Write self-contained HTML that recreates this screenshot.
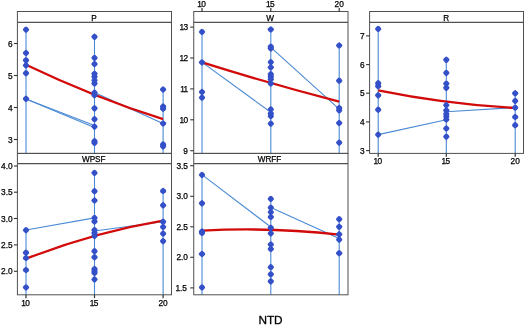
<!DOCTYPE html>
<html><head><meta charset="utf-8"><title>NTD</title>
<style>
html,body{margin:0;padding:0;background:#fff;}
svg{display:block;}
.t{font-family:"Liberation Sans",sans-serif;font-size:8.3px;fill:#000;stroke:#000;stroke-width:0.25px;}
.h{font-size:8.2px;letter-spacing:-0.1px;}
.ax{font-family:"Liberation Sans",sans-serif;font-size:11.8px;fill:#000;stroke:#000;stroke-width:0.3px;}
</style></head><body>
<svg width="525" height="326" viewBox="0 0 525 326">
<rect width="525" height="326" fill="#fff"/>
<line x1="26.0" y1="29.6" x2="26.0" y2="153.4" stroke="#4a8ad4" stroke-width="1.1"/><line x1="94.5" y1="36.8" x2="94.5" y2="153.4" stroke="#4a8ad4" stroke-width="1.1"/><line x1="163.1" y1="89.5" x2="163.1" y2="153.4" stroke="#4a8ad4" stroke-width="1.1"/><line x1="26" y1="98.9" x2="94.5" y2="125.5" stroke="#4a8ad4" stroke-width="1.1"/><line x1="26" y1="98.9" x2="94.5" y2="127.5" stroke="#4a8ad4" stroke-width="1.1"/><line x1="94.5" y1="92.4" x2="162.9" y2="123.5" stroke="#4a8ad4" stroke-width="1.1"/><path d="M26 64.7 Q94.45 97.45 163.1 119.2" fill="none" stroke="#d20a0a" stroke-width="2.3" stroke-linecap="butt"/><rect x="23.30" y="26.90" width="5.4" height="5.4" rx="1.7" transform="rotate(45 26.0 29.6)" fill="#3350c8"/><rect x="23.30" y="50.30" width="5.4" height="5.4" rx="1.7" transform="rotate(45 26.0 53)" fill="#3350c8"/><rect x="23.30" y="57.60" width="5.4" height="5.4" rx="1.7" transform="rotate(45 26.0 60.3)" fill="#3350c8"/><rect x="23.30" y="62.70" width="5.4" height="5.4" rx="1.7" transform="rotate(45 26.0 65.4)" fill="#3350c8"/><rect x="23.30" y="70.50" width="5.4" height="5.4" rx="1.7" transform="rotate(45 26.0 73.2)" fill="#3350c8"/><rect x="23.30" y="96.10" width="5.4" height="5.4" rx="1.7" transform="rotate(45 26.0 98.8)" fill="#3350c8"/><rect x="91.80" y="34.10" width="5.4" height="5.4" rx="1.7" transform="rotate(45 94.5 36.8)" fill="#3350c8"/><rect x="91.80" y="55.20" width="5.4" height="5.4" rx="1.7" transform="rotate(45 94.5 57.9)" fill="#3350c8"/><rect x="91.80" y="61.30" width="5.4" height="5.4" rx="1.7" transform="rotate(45 94.5 64)" fill="#3350c8"/><rect x="91.80" y="71.10" width="5.4" height="5.4" rx="1.7" transform="rotate(45 94.5 73.8)" fill="#3350c8"/><rect x="91.80" y="74.10" width="5.4" height="5.4" rx="1.7" transform="rotate(45 94.5 76.8)" fill="#3350c8"/><rect x="91.80" y="77.70" width="5.4" height="5.4" rx="1.7" transform="rotate(45 94.5 80.4)" fill="#3350c8"/><rect x="91.80" y="80.80" width="5.4" height="5.4" rx="1.7" transform="rotate(45 94.5 83.5)" fill="#3350c8"/><rect x="91.80" y="89.90" width="5.4" height="5.4" rx="1.7" transform="rotate(45 94.5 92.6)" fill="#3350c8"/><rect x="91.80" y="92.50" width="5.4" height="5.4" rx="1.7" transform="rotate(45 94.5 95.2)" fill="#3350c8"/><rect x="91.80" y="105.60" width="5.4" height="5.4" rx="1.7" transform="rotate(45 94.5 108.3)" fill="#3350c8"/><rect x="91.80" y="116.50" width="5.4" height="5.4" rx="1.7" transform="rotate(45 94.5 119.2)" fill="#3350c8"/><rect x="91.80" y="123.90" width="5.4" height="5.4" rx="1.7" transform="rotate(45 94.5 126.6)" fill="#3350c8"/><rect x="91.80" y="138.50" width="5.4" height="5.4" rx="1.7" transform="rotate(45 94.5 141.2)" fill="#3350c8"/><rect x="91.80" y="140.20" width="5.4" height="5.4" rx="1.7" transform="rotate(45 94.5 142.9)" fill="#3350c8"/><rect x="160.40" y="86.80" width="5.4" height="5.4" rx="1.7" transform="rotate(45 163.1 89.5)" fill="#3350c8"/><rect x="160.40" y="103.80" width="5.4" height="5.4" rx="1.7" transform="rotate(45 163.1 106.5)" fill="#3350c8"/><rect x="160.40" y="106.00" width="5.4" height="5.4" rx="1.7" transform="rotate(45 163.1 108.7)" fill="#3350c8"/><rect x="160.40" y="120.80" width="5.4" height="5.4" rx="1.7" transform="rotate(45 163.1 123.5)" fill="#3350c8"/><rect x="160.40" y="141.70" width="5.4" height="5.4" rx="1.7" transform="rotate(45 163.1 144.4)" fill="#3350c8"/><rect x="160.40" y="143.70" width="5.4" height="5.4" rx="1.7" transform="rotate(45 163.1 146.4)" fill="#3350c8"/><line x1="202.0" y1="31.9" x2="202.0" y2="153.4" stroke="#4a8ad4" stroke-width="1.1"/><line x1="270.8" y1="29.5" x2="270.8" y2="153.4" stroke="#4a8ad4" stroke-width="1.1"/><line x1="339.2" y1="45.5" x2="339.2" y2="153.4" stroke="#4a8ad4" stroke-width="1.1"/><line x1="202.2" y1="62.4" x2="270.8" y2="112.3" stroke="#4a8ad4" stroke-width="1.1"/><line x1="270.8" y1="47.3" x2="339.2" y2="109.2" stroke="#4a8ad4" stroke-width="1.1"/><path d="M202.2 62.4 Q270.90 84.00 339.2 101.6" fill="none" stroke="#d20a0a" stroke-width="2.3" stroke-linecap="butt"/><rect x="199.30" y="29.20" width="5.4" height="5.4" rx="1.7" transform="rotate(45 202.0 31.9)" fill="#3350c8"/><rect x="199.30" y="59.70" width="5.4" height="5.4" rx="1.7" transform="rotate(45 202.0 62.4)" fill="#3350c8"/><rect x="199.30" y="89.30" width="5.4" height="5.4" rx="1.7" transform="rotate(45 202.0 92)" fill="#3350c8"/><rect x="199.30" y="94.90" width="5.4" height="5.4" rx="1.7" transform="rotate(45 202.0 97.6)" fill="#3350c8"/><rect x="268.10" y="26.80" width="5.4" height="5.4" rx="1.7" transform="rotate(45 270.8 29.5)" fill="#3350c8"/><rect x="268.10" y="43.90" width="5.4" height="5.4" rx="1.7" transform="rotate(45 270.8 46.6)" fill="#3350c8"/><rect x="268.10" y="45.70" width="5.4" height="5.4" rx="1.7" transform="rotate(45 270.8 48.4)" fill="#3350c8"/><rect x="268.10" y="59.40" width="5.4" height="5.4" rx="1.7" transform="rotate(45 270.8 62.1)" fill="#3350c8"/><rect x="268.10" y="64.70" width="5.4" height="5.4" rx="1.7" transform="rotate(45 270.8 67.4)" fill="#3350c8"/><rect x="268.10" y="71.50" width="5.4" height="5.4" rx="1.7" transform="rotate(45 270.8 74.2)" fill="#3350c8"/><rect x="268.10" y="74.00" width="5.4" height="5.4" rx="1.7" transform="rotate(45 270.8 76.7)" fill="#3350c8"/><rect x="268.10" y="76.50" width="5.4" height="5.4" rx="1.7" transform="rotate(45 270.8 79.2)" fill="#3350c8"/><rect x="268.10" y="80.80" width="5.4" height="5.4" rx="1.7" transform="rotate(45 270.8 83.5)" fill="#3350c8"/><rect x="268.10" y="106.70" width="5.4" height="5.4" rx="1.7" transform="rotate(45 270.8 109.4)" fill="#3350c8"/><rect x="268.10" y="110.80" width="5.4" height="5.4" rx="1.7" transform="rotate(45 270.8 113.5)" fill="#3350c8"/><rect x="268.10" y="113.40" width="5.4" height="5.4" rx="1.7" transform="rotate(45 270.8 116.1)" fill="#3350c8"/><rect x="268.10" y="120.90" width="5.4" height="5.4" rx="1.7" transform="rotate(45 270.8 123.6)" fill="#3350c8"/><rect x="336.50" y="42.80" width="5.4" height="5.4" rx="1.7" transform="rotate(45 339.2 45.5)" fill="#3350c8"/><rect x="336.50" y="78.00" width="5.4" height="5.4" rx="1.7" transform="rotate(45 339.2 80.7)" fill="#3350c8"/><rect x="336.50" y="105.30" width="5.4" height="5.4" rx="1.7" transform="rotate(45 339.2 108)" fill="#3350c8"/><rect x="336.50" y="107.70" width="5.4" height="5.4" rx="1.7" transform="rotate(45 339.2 110.4)" fill="#3350c8"/><rect x="336.50" y="120.30" width="5.4" height="5.4" rx="1.7" transform="rotate(45 339.2 123)" fill="#3350c8"/><rect x="336.50" y="139.90" width="5.4" height="5.4" rx="1.7" transform="rotate(45 339.2 142.6)" fill="#3350c8"/><line x1="378.2" y1="28.9" x2="378.2" y2="153.4" stroke="#4a8ad4" stroke-width="1.1"/><line x1="446.3" y1="59.8" x2="446.3" y2="153.4" stroke="#4a8ad4" stroke-width="1.1"/><line x1="515.2" y1="93.3" x2="515.2" y2="153.4" stroke="#4a8ad4" stroke-width="1.1"/><line x1="378.2" y1="134.6" x2="446.3" y2="119.7" stroke="#4a8ad4" stroke-width="1.1"/><line x1="446.3" y1="111.7" x2="515.2" y2="107.6" stroke="#4a8ad4" stroke-width="1.1"/><path d="M378.2 90.3 Q445.90 104.10 515.2 107.9" fill="none" stroke="#d20a0a" stroke-width="2.3" stroke-linecap="butt"/><rect x="375.50" y="26.20" width="5.4" height="5.4" rx="1.7" transform="rotate(45 378.2 28.9)" fill="#3350c8"/><rect x="375.50" y="80.50" width="5.4" height="5.4" rx="1.7" transform="rotate(45 378.2 83.2)" fill="#3350c8"/><rect x="375.50" y="83.50" width="5.4" height="5.4" rx="1.7" transform="rotate(45 378.2 86.2)" fill="#3350c8"/><rect x="375.50" y="92.60" width="5.4" height="5.4" rx="1.7" transform="rotate(45 378.2 95.3)" fill="#3350c8"/><rect x="375.50" y="107.00" width="5.4" height="5.4" rx="1.7" transform="rotate(45 378.2 109.7)" fill="#3350c8"/><rect x="375.50" y="131.90" width="5.4" height="5.4" rx="1.7" transform="rotate(45 378.2 134.6)" fill="#3350c8"/><rect x="443.60" y="57.10" width="5.4" height="5.4" rx="1.7" transform="rotate(45 446.3 59.8)" fill="#3350c8"/><rect x="443.60" y="70.20" width="5.4" height="5.4" rx="1.7" transform="rotate(45 446.3 72.9)" fill="#3350c8"/><rect x="443.60" y="80.90" width="5.4" height="5.4" rx="1.7" transform="rotate(45 446.3 83.6)" fill="#3350c8"/><rect x="443.60" y="85.10" width="5.4" height="5.4" rx="1.7" transform="rotate(45 446.3 87.8)" fill="#3350c8"/><rect x="443.60" y="102.40" width="5.4" height="5.4" rx="1.7" transform="rotate(45 446.3 105.1)" fill="#3350c8"/><rect x="443.60" y="107.70" width="5.4" height="5.4" rx="1.7" transform="rotate(45 446.3 110.4)" fill="#3350c8"/><rect x="443.60" y="111.20" width="5.4" height="5.4" rx="1.7" transform="rotate(45 446.3 113.9)" fill="#3350c8"/><rect x="443.60" y="113.70" width="5.4" height="5.4" rx="1.7" transform="rotate(45 446.3 116.4)" fill="#3350c8"/><rect x="443.60" y="116.80" width="5.4" height="5.4" rx="1.7" transform="rotate(45 446.3 119.5)" fill="#3350c8"/><rect x="443.60" y="125.80" width="5.4" height="5.4" rx="1.7" transform="rotate(45 446.3 128.5)" fill="#3350c8"/><rect x="443.60" y="133.90" width="5.4" height="5.4" rx="1.7" transform="rotate(45 446.3 136.6)" fill="#3350c8"/><rect x="512.50" y="90.60" width="5.4" height="5.4" rx="1.7" transform="rotate(45 515.2 93.3)" fill="#3350c8"/><rect x="512.50" y="98.20" width="5.4" height="5.4" rx="1.7" transform="rotate(45 515.2 100.9)" fill="#3350c8"/><rect x="512.50" y="104.90" width="5.4" height="5.4" rx="1.7" transform="rotate(45 515.2 107.6)" fill="#3350c8"/><rect x="512.50" y="114.30" width="5.4" height="5.4" rx="1.7" transform="rotate(45 515.2 117)" fill="#3350c8"/><rect x="512.50" y="122.50" width="5.4" height="5.4" rx="1.7" transform="rotate(45 515.2 125.2)" fill="#3350c8"/><line x1="26.0" y1="230.1" x2="26.0" y2="294.8" stroke="#4a8ad4" stroke-width="1.1"/><line x1="94.5" y1="172.9" x2="94.5" y2="294.8" stroke="#4a8ad4" stroke-width="1.1"/><line x1="163.1" y1="191" x2="163.1" y2="294.8" stroke="#4a8ad4" stroke-width="1.1"/><line x1="26" y1="230" x2="94.5" y2="217.9" stroke="#4a8ad4" stroke-width="1.1"/><line x1="94.5" y1="231" x2="162.9" y2="221.8" stroke="#4a8ad4" stroke-width="1.1"/><path d="M26 258.8 Q94.45 232.10 163.1 220.6" fill="none" stroke="#d20a0a" stroke-width="2.3" stroke-linecap="butt"/><rect x="23.30" y="227.40" width="5.4" height="5.4" rx="1.7" transform="rotate(45 26.0 230.1)" fill="#3350c8"/><rect x="23.30" y="250.00" width="5.4" height="5.4" rx="1.7" transform="rotate(45 26.0 252.7)" fill="#3350c8"/><rect x="23.30" y="255.30" width="5.4" height="5.4" rx="1.7" transform="rotate(45 26.0 258)" fill="#3350c8"/><rect x="23.30" y="267.30" width="5.4" height="5.4" rx="1.7" transform="rotate(45 26.0 270)" fill="#3350c8"/><rect x="23.30" y="284.70" width="5.4" height="5.4" rx="1.7" transform="rotate(45 26.0 287.4)" fill="#3350c8"/><rect x="91.80" y="170.20" width="5.4" height="5.4" rx="1.7" transform="rotate(45 94.5 172.9)" fill="#3350c8"/><rect x="91.80" y="188.50" width="5.4" height="5.4" rx="1.7" transform="rotate(45 94.5 191.2)" fill="#3350c8"/><rect x="91.80" y="197.80" width="5.4" height="5.4" rx="1.7" transform="rotate(45 94.5 200.5)" fill="#3350c8"/><rect x="91.80" y="215.20" width="5.4" height="5.4" rx="1.7" transform="rotate(45 94.5 217.9)" fill="#3350c8"/><rect x="91.80" y="218.80" width="5.4" height="5.4" rx="1.7" transform="rotate(45 94.5 221.5)" fill="#3350c8"/><rect x="91.80" y="227.30" width="5.4" height="5.4" rx="1.7" transform="rotate(45 94.5 230)" fill="#3350c8"/><rect x="91.80" y="230.30" width="5.4" height="5.4" rx="1.7" transform="rotate(45 94.5 233)" fill="#3350c8"/><rect x="91.80" y="233.30" width="5.4" height="5.4" rx="1.7" transform="rotate(45 94.5 236)" fill="#3350c8"/><rect x="91.80" y="248.50" width="5.4" height="5.4" rx="1.7" transform="rotate(45 94.5 251.2)" fill="#3350c8"/><rect x="91.80" y="254.50" width="5.4" height="5.4" rx="1.7" transform="rotate(45 94.5 257.2)" fill="#3350c8"/><rect x="91.80" y="266.30" width="5.4" height="5.4" rx="1.7" transform="rotate(45 94.5 269)" fill="#3350c8"/><rect x="91.80" y="268.30" width="5.4" height="5.4" rx="1.7" transform="rotate(45 94.5 271)" fill="#3350c8"/><rect x="91.80" y="270.30" width="5.4" height="5.4" rx="1.7" transform="rotate(45 94.5 273)" fill="#3350c8"/><rect x="91.80" y="276.70" width="5.4" height="5.4" rx="1.7" transform="rotate(45 94.5 279.4)" fill="#3350c8"/><rect x="160.40" y="188.30" width="5.4" height="5.4" rx="1.7" transform="rotate(45 163.1 191)" fill="#3350c8"/><rect x="160.40" y="202.60" width="5.4" height="5.4" rx="1.7" transform="rotate(45 163.1 205.3)" fill="#3350c8"/><rect x="160.40" y="219.10" width="5.4" height="5.4" rx="1.7" transform="rotate(45 163.1 221.8)" fill="#3350c8"/><rect x="160.40" y="224.30" width="5.4" height="5.4" rx="1.7" transform="rotate(45 163.1 227)" fill="#3350c8"/><rect x="160.40" y="230.90" width="5.4" height="5.4" rx="1.7" transform="rotate(45 163.1 233.6)" fill="#3350c8"/><rect x="160.40" y="238.40" width="5.4" height="5.4" rx="1.7" transform="rotate(45 163.1 241.1)" fill="#3350c8"/><line x1="202.0" y1="174.9" x2="202.0" y2="294.8" stroke="#4a8ad4" stroke-width="1.1"/><line x1="270.8" y1="198.9" x2="270.8" y2="294.8" stroke="#4a8ad4" stroke-width="1.1"/><line x1="339.2" y1="219.2" x2="339.2" y2="294.8" stroke="#4a8ad4" stroke-width="1.1"/><line x1="202.2" y1="174.9" x2="270.8" y2="227" stroke="#4a8ad4" stroke-width="1.1"/><line x1="270.8" y1="207.5" x2="339.2" y2="238.6" stroke="#4a8ad4" stroke-width="1.1"/><path d="M202.2 230.6 Q270.90 227.00 339.2 234.6" fill="none" stroke="#d20a0a" stroke-width="2.3" stroke-linecap="butt"/><rect x="199.30" y="172.20" width="5.4" height="5.4" rx="1.7" transform="rotate(45 202.0 174.9)" fill="#3350c8"/><rect x="199.30" y="200.60" width="5.4" height="5.4" rx="1.7" transform="rotate(45 202.0 203.3)" fill="#3350c8"/><rect x="199.30" y="228.80" width="5.4" height="5.4" rx="1.7" transform="rotate(45 202.0 231.5)" fill="#3350c8"/><rect x="199.30" y="230.30" width="5.4" height="5.4" rx="1.7" transform="rotate(45 202.0 233)" fill="#3350c8"/><rect x="199.30" y="251.30" width="5.4" height="5.4" rx="1.7" transform="rotate(45 202.0 254)" fill="#3350c8"/><rect x="199.30" y="284.70" width="5.4" height="5.4" rx="1.7" transform="rotate(45 202.0 287.4)" fill="#3350c8"/><rect x="268.10" y="196.20" width="5.4" height="5.4" rx="1.7" transform="rotate(45 270.8 198.9)" fill="#3350c8"/><rect x="268.10" y="204.90" width="5.4" height="5.4" rx="1.7" transform="rotate(45 270.8 207.6)" fill="#3350c8"/><rect x="268.10" y="209.40" width="5.4" height="5.4" rx="1.7" transform="rotate(45 270.8 212.1)" fill="#3350c8"/><rect x="268.10" y="214.30" width="5.4" height="5.4" rx="1.7" transform="rotate(45 270.8 217.0)" fill="#3350c8"/><rect x="268.10" y="225.10" width="5.4" height="5.4" rx="1.7" transform="rotate(45 270.8 227.8)" fill="#3350c8"/><rect x="268.10" y="230.70" width="5.4" height="5.4" rx="1.7" transform="rotate(45 270.8 233.4)" fill="#3350c8"/><rect x="268.10" y="241.80" width="5.4" height="5.4" rx="1.7" transform="rotate(45 270.8 244.5)" fill="#3350c8"/><rect x="268.10" y="246.30" width="5.4" height="5.4" rx="1.7" transform="rotate(45 270.8 249.0)" fill="#3350c8"/><rect x="268.10" y="264.50" width="5.4" height="5.4" rx="1.7" transform="rotate(45 270.8 267.2)" fill="#3350c8"/><rect x="268.10" y="271.60" width="5.4" height="5.4" rx="1.7" transform="rotate(45 270.8 274.3)" fill="#3350c8"/><rect x="268.10" y="278.60" width="5.4" height="5.4" rx="1.7" transform="rotate(45 270.8 281.3)" fill="#3350c8"/><rect x="336.50" y="216.50" width="5.4" height="5.4" rx="1.7" transform="rotate(45 339.2 219.2)" fill="#3350c8"/><rect x="336.50" y="224.10" width="5.4" height="5.4" rx="1.7" transform="rotate(45 339.2 226.8)" fill="#3350c8"/><rect x="336.50" y="231.60" width="5.4" height="5.4" rx="1.7" transform="rotate(45 339.2 234.3)" fill="#3350c8"/><rect x="336.50" y="236.90" width="5.4" height="5.4" rx="1.7" transform="rotate(45 339.2 239.6)" fill="#3350c8"/><rect x="336.50" y="250.50" width="5.4" height="5.4" rx="1.7" transform="rotate(45 339.2 253.2)" fill="#3350c8"/>
<rect x="17.4" y="11.5" width="154.1" height="141.9" fill="none" stroke="#505050" stroke-width="1"/><line x1="17.4" y1="22.4" x2="171.5" y2="22.4" stroke="#505050" stroke-width="1.1"/><text x="94.05" y="21.10" text-anchor="middle" class="t h">P</text><rect x="193.75" y="11.5" width="154.25" height="141.9" fill="none" stroke="#505050" stroke-width="1"/><line x1="193.75" y1="22.4" x2="348.0" y2="22.4" stroke="#505050" stroke-width="1.1"/><text x="270.07" y="21.10" text-anchor="middle" class="t h">W</text><rect x="369.6" y="11.5" width="153.89999999999998" height="141.9" fill="none" stroke="#505050" stroke-width="1"/><line x1="369.6" y1="22.4" x2="523.5" y2="22.4" stroke="#505050" stroke-width="1.1"/><text x="446.20" y="21.10" text-anchor="middle" class="t h">R</text><rect x="17.4" y="153.4" width="154.1" height="141.4" fill="none" stroke="#505050" stroke-width="1"/><line x1="17.4" y1="163.6" x2="171.5" y2="163.6" stroke="#505050" stroke-width="1.1"/><text x="93.75" y="162.30" text-anchor="middle" class="t h">WPSF</text><rect x="193.75" y="153.4" width="154.25" height="141.4" fill="none" stroke="#505050" stroke-width="1"/><line x1="193.75" y1="163.6" x2="348.0" y2="163.6" stroke="#505050" stroke-width="1.1"/><text x="269.48" y="162.30" text-anchor="middle" class="t h">WRFF</text><line x1="13.899999999999999" y1="43.5" x2="17.4" y2="43.5" stroke="#333" stroke-width="1.1"/><text x="12.599999999999998" y="46.5" text-anchor="end" class="t">6</text><line x1="13.899999999999999" y1="75.5" x2="17.4" y2="75.5" stroke="#333" stroke-width="1.1"/><text x="12.599999999999998" y="78.5" text-anchor="end" class="t">5</text><line x1="13.899999999999999" y1="107.5" x2="17.4" y2="107.5" stroke="#333" stroke-width="1.1"/><text x="12.599999999999998" y="110.5" text-anchor="end" class="t">4</text><line x1="13.899999999999999" y1="139.5" x2="17.4" y2="139.5" stroke="#333" stroke-width="1.1"/><text x="12.599999999999998" y="142.5" text-anchor="end" class="t">3</text><line x1="190.25" y1="27.1" x2="193.75" y2="27.1" stroke="#333" stroke-width="1.1"/><text x="187.64999999999998" y="30.1" text-anchor="end" class="t" letter-spacing="-0.6">13</text><line x1="190.25" y1="58.0" x2="193.75" y2="58.0" stroke="#333" stroke-width="1.1"/><text x="187.64999999999998" y="61.0" text-anchor="end" class="t" letter-spacing="-0.6">12</text><line x1="190.25" y1="88.9" x2="193.75" y2="88.9" stroke="#333" stroke-width="1.1"/><text x="187.64999999999998" y="91.9" text-anchor="end" class="t" letter-spacing="-0.6">11</text><line x1="190.25" y1="119.8" x2="193.75" y2="119.8" stroke="#333" stroke-width="1.1"/><text x="187.64999999999998" y="122.8" text-anchor="end" class="t" letter-spacing="-0.6">10</text><line x1="190.25" y1="150.7" x2="193.75" y2="150.7" stroke="#333" stroke-width="1.1"/><text x="187.95" y="153.7" text-anchor="end" class="t">9</text><line x1="366.1" y1="35.9" x2="369.6" y2="35.9" stroke="#333" stroke-width="1.1"/><text x="364.70000000000005" y="38.9" text-anchor="end" class="t">7</text><line x1="366.1" y1="64.6" x2="369.6" y2="64.6" stroke="#333" stroke-width="1.1"/><text x="364.70000000000005" y="67.6" text-anchor="end" class="t">6</text><line x1="366.1" y1="93.2" x2="369.6" y2="93.2" stroke="#333" stroke-width="1.1"/><text x="364.70000000000005" y="96.2" text-anchor="end" class="t">5</text><line x1="366.1" y1="121.9" x2="369.6" y2="121.9" stroke="#333" stroke-width="1.1"/><text x="364.70000000000005" y="124.9" text-anchor="end" class="t">4</text><line x1="366.1" y1="150.6" x2="369.6" y2="150.6" stroke="#333" stroke-width="1.1"/><text x="364.70000000000005" y="153.6" text-anchor="end" class="t">3</text><line x1="13.899999999999999" y1="166.0" x2="17.4" y2="166.0" stroke="#333" stroke-width="1.1"/><text x="12.599999999999998" y="169.0" text-anchor="end" class="t">4.0</text><line x1="13.899999999999999" y1="192.2" x2="17.4" y2="192.2" stroke="#333" stroke-width="1.1"/><text x="12.599999999999998" y="195.2" text-anchor="end" class="t">3.5</text><line x1="13.899999999999999" y1="218.5" x2="17.4" y2="218.5" stroke="#333" stroke-width="1.1"/><text x="12.599999999999998" y="221.5" text-anchor="end" class="t">3.0</text><line x1="13.899999999999999" y1="244.9" x2="17.4" y2="244.9" stroke="#333" stroke-width="1.1"/><text x="12.599999999999998" y="247.9" text-anchor="end" class="t">2.5</text><line x1="13.899999999999999" y1="271.3" x2="17.4" y2="271.3" stroke="#333" stroke-width="1.1"/><text x="12.599999999999998" y="274.3" text-anchor="end" class="t">2.0</text><line x1="190.25" y1="165.7" x2="193.75" y2="165.7" stroke="#333" stroke-width="1.1"/><text x="187.95" y="168.7" text-anchor="end" class="t">3.5</text><line x1="190.25" y1="196.3" x2="193.75" y2="196.3" stroke="#333" stroke-width="1.1"/><text x="187.95" y="199.3" text-anchor="end" class="t">3.0</text><line x1="190.25" y1="226.8" x2="193.75" y2="226.8" stroke="#333" stroke-width="1.1"/><text x="187.95" y="229.8" text-anchor="end" class="t">2.5</text><line x1="190.25" y1="257.3" x2="193.75" y2="257.3" stroke="#333" stroke-width="1.1"/><text x="187.95" y="260.3" text-anchor="end" class="t">2.0</text><line x1="190.25" y1="287.9" x2="193.75" y2="287.9" stroke="#333" stroke-width="1.1"/><text x="186.95" y="290.9" text-anchor="end" class="t">1.5</text><line x1="202.0" y1="11.5" x2="202.0" y2="7.9" stroke="#333" stroke-width="1.2"/><text x="201.3" y="6.6" text-anchor="middle" class="t" letter-spacing="-0.6">10</text><line x1="270.8" y1="11.5" x2="270.8" y2="7.9" stroke="#333" stroke-width="1.2"/><text x="270.1" y="6.6" text-anchor="middle" class="t" letter-spacing="-0.6">15</text><line x1="339.2" y1="11.5" x2="339.2" y2="7.9" stroke="#333" stroke-width="1.2"/><text x="339.2" y="6.6" text-anchor="middle" class="t">20</text><line x1="378.2" y1="153.4" x2="378.2" y2="156.8" stroke="#333" stroke-width="1.2"/><text x="377.5" y="164.4" text-anchor="middle" class="t" letter-spacing="-0.6">10</text><line x1="446.3" y1="153.4" x2="446.3" y2="156.8" stroke="#333" stroke-width="1.2"/><text x="445.6" y="164.4" text-anchor="middle" class="t" letter-spacing="-0.6">15</text><line x1="515.2" y1="153.4" x2="515.2" y2="156.8" stroke="#333" stroke-width="1.2"/><text x="515.2" y="164.4" text-anchor="middle" class="t">20</text><line x1="26.0" y1="294.8" x2="26.0" y2="298.2" stroke="#333" stroke-width="1.2"/><text x="25.3" y="305.8" text-anchor="middle" class="t" letter-spacing="-0.6">10</text><line x1="94.5" y1="294.8" x2="94.5" y2="298.2" stroke="#333" stroke-width="1.2"/><text x="93.8" y="305.8" text-anchor="middle" class="t" letter-spacing="-0.6">15</text><line x1="163.1" y1="294.8" x2="163.1" y2="298.2" stroke="#333" stroke-width="1.2"/><text x="163.1" y="305.8" text-anchor="middle" class="t">20</text><text x="270.5" y="324.4" text-anchor="middle" class="ax">NTD</text>
</svg>
</body></html>
